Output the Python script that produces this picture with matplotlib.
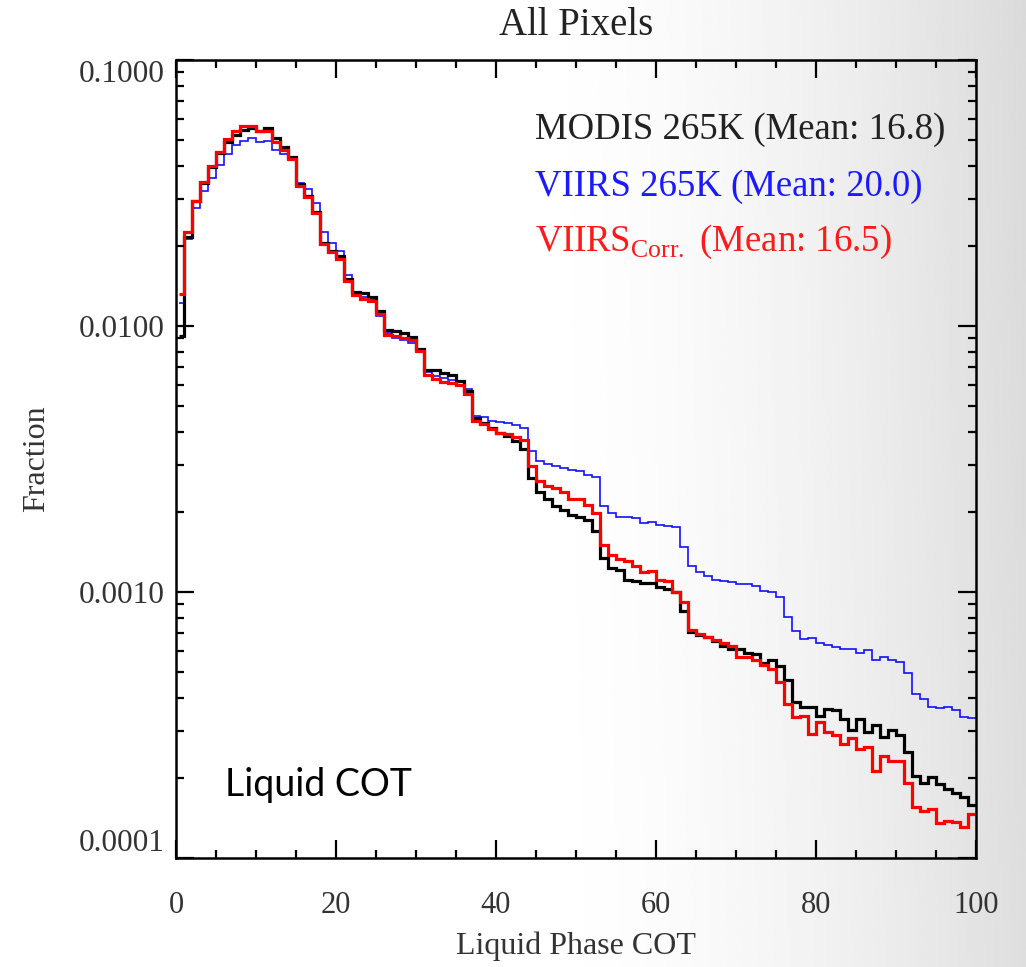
import numpy as np
import matplotlib
matplotlib.use("Agg")
import matplotlib.pyplot as plt
from matplotlib.ticker import MultipleLocator, FixedLocator, NullFormatter

plt.rcParams['font.family'] = ['Liberation Serif', 'DejaVu Serif']
plt.rcParams['mathtext.fontset'] = 'custom'
plt.rcParams['mathtext.rm'] = 'Liberation Serif'

# histogram bins of liquid COT (first bin is a partial one starting near 0.4)
bin_edges = np.concatenate([[0.4], np.arange(1, 101)])

modis = [0.00919, 0.0217, 0.0296, 0.0344, 0.0397, 0.0446, 0.0493, 0.0523, 0.0546, 0.0554,
         0.0543, 0.0557, 0.0511, 0.0472, 0.0433, 0.0341, 0.0308, 0.0269, 0.0206, 0.0192,
         0.0184, 0.0150, 0.0134, 0.0133, 0.0129, 0.0114, 0.00966, 0.00955, 0.00939, 0.00906,
         0.00819, 0.00682, 0.00685, 0.00663, 0.00655, 0.00622, 0.00570, 0.00452, 0.00433, 0.00415,
         0.00397, 0.00386, 0.00369, 0.00346, 0.00269, 0.00237, 0.00223, 0.00211, 0.00203, 0.00195,
         0.00192, 0.00186, 0.00169, 0.00134, 0.00123, 0.00121, 0.00111, 0.00110, 0.00108, 0.00108,
         0.00104, 0.00103, 0.00100, 0.000850, 0.000708, 0.000688, 0.000675, 0.000656, 0.000626, 0.000613,
         0.000613, 0.000590, 0.000583, 0.000541, 0.000554, 0.000526, 0.000466, 0.000386, 0.000368, 0.000368,
         0.000341, 0.000364, 0.000359, 0.000332, 0.000304, 0.000334, 0.000297, 0.000315, 0.000284, 0.000303,
         0.000289, 0.000250, 0.000204, 0.000192, 0.000201, 0.000190, 0.000182, 0.000176, 0.000169, 0.000158]

viirs = [0.0122, 0.0213, 0.0277, 0.0323, 0.0361, 0.0403, 0.0444, 0.0479, 0.0498, 0.0508,
         0.0490, 0.0496, 0.0459, 0.0442, 0.0427, 0.0344, 0.0327, 0.0291, 0.0225, 0.0206,
         0.0192, 0.0155, 0.0134, 0.0128, 0.0126, 0.0109, 0.00941, 0.00901, 0.00888, 0.00863,
         0.00819, 0.00669, 0.00649, 0.00635, 0.00627, 0.00622, 0.00578, 0.00459, 0.00456, 0.00439,
         0.00437, 0.00430, 0.00423, 0.00415, 0.00338, 0.00310, 0.00302, 0.00297, 0.00293, 0.00287,
         0.00285, 0.00276, 0.00271, 0.00210, 0.00198, 0.00192, 0.00191, 0.00190, 0.00181, 0.00183,
         0.00179, 0.00177, 0.00175, 0.00148, 0.00125, 0.00119, 0.00115, 0.00111, 0.00110, 0.00109,
         0.00107, 0.00107, 0.00105, 0.00101, 0.00100, 0.000960, 0.000803, 0.000715, 0.000663, 0.000669,
         0.000644, 0.000631, 0.000622, 0.000608, 0.000613, 0.000589, 0.000604, 0.000557, 0.000572, 0.000556,
         0.000546, 0.000495, 0.000415, 0.000397, 0.000369, 0.000367, 0.000369, 0.000361, 0.000338, 0.000335]

viirs_corr = [0.0132, 0.0226, 0.0294, 0.0349, 0.0398, 0.0452, 0.0503, 0.0540, 0.0567, 0.0567,
              0.0543, 0.0543, 0.0493, 0.0459, 0.0423, 0.0337, 0.0306, 0.0267, 0.0204, 0.0190,
              0.0179, 0.0147, 0.0131, 0.0126, 0.0124, 0.0111, 0.00927, 0.00914, 0.00901, 0.00888,
              0.00807, 0.00653, 0.00634, 0.00616, 0.00613, 0.00600, 0.00554, 0.00439, 0.00427, 0.00409,
              0.00397, 0.00391, 0.00383, 0.00372, 0.00297, 0.00261, 0.00250, 0.00246, 0.00238, 0.00223,
              0.00224, 0.00213, 0.00199, 0.00150, 0.00138, 0.00133, 0.00131, 0.00125, 0.00119, 0.00120,
              0.00111, 0.00110, 0.00100, 0.000919, 0.000719, 0.000698, 0.000676, 0.000659, 0.000642, 0.000626,
              0.000570, 0.000570, 0.000554, 0.000530, 0.000512, 0.000457, 0.000378, 0.000340, 0.000343, 0.000293,
              0.000324, 0.000297, 0.000289, 0.000269, 0.000283, 0.000257, 0.000261, 0.000213, 0.000241, 0.000231,
              0.000231, 0.000192, 0.000155, 0.000150, 0.000153, 0.000135, 0.000138, 0.000136, 0.000131, 0.000146]

labels = ['MODIS 265K (Mean: 16.8)', 'VIIRS 265K (Mean: 20.0)',
          r'VIIRS$_{\mathrm{Corr.}}$ (Mean: 16.5)']

fig = plt.figure(figsize=(10.26, 9.67), dpi=100)

# soft grey background gradient (white on the left, grey to the right)
bg = fig.add_axes([0, 0, 1, 1], zorder=-10)
gx = np.linspace(0, 1, 400)
gy = np.linspace(0, 1, 400)
GX, GY = np.meshgrid(gx, gy)
shade = 1 - 0.13 * np.clip((GX - 0.5) / 0.5, 0, 1) ** 1.8 - 0.03 * GY * np.clip(GX - 0.5, 0, 1)
bg.imshow(shade, cmap='gray', vmin=0, vmax=1, aspect='auto', extent=[0, 1, 0, 1], origin='lower')
bg.axis('off')

ax = fig.add_axes([176 / 1026, 1 - 858 / 967, 800 / 1026, 798 / 967])
ax.set_facecolor('none')

ax.stairs(viirs, bin_edges, color='#1010ff', lw=1.2, baseline=None)
ax.stairs(modis, bin_edges, color='black', lw=2.3, baseline=None)
ax.stairs(viirs_corr, bin_edges, color='#ff0000', lw=2.3, baseline=None)

ax.set_yscale('log')
ax.set_xlim(0, 100)
ax.set_ylim(1e-4, 1e-1)

ax.xaxis.set_major_locator(MultipleLocator(20))
ax.xaxis.set_minor_locator(MultipleLocator(5))
ax.yaxis.set_major_locator(FixedLocator([1e-4, 1e-3, 1e-2, 1e-1]))
ax.yaxis.set_minor_locator(FixedLocator([m * 10.0 ** e for e in (-4, -3, -2) for m in range(2, 10)]))
ax.yaxis.set_minor_formatter(NullFormatter())
ax.set_yticklabels(['0.0001', '0.0010', '0.0100', '0.1000'])

ax.tick_params(which='both', direction='in', top=True, right=True, width=1.6, colors='black')
ax.tick_params(which='major', length=13)
ax.tick_params(which='minor', length=6)
ax.tick_params(axis='x', which='major', labelsize=22, pad=24, labelcolor='#333333')
ax.tick_params(axis='y', which='major', labelsize=22.5, pad=8, labelcolor='#333333')
ylabs = ax.get_yticklabels()
ylabs[0].set_va('bottom')
ylabs[-1].set_va('top')
for s in ax.spines.values():
    s.set_linewidth(1.8)

ax.set_xlabel('Liquid Phase COT', fontsize=23, color='#333333', labelpad=8)
ax.set_ylabel('Fraction', fontsize=23, color='#333333', labelpad=20)
ax.set_title('All Pixels', fontsize=28, color='#222222', pad=18)

colors = ['#222222', '#1a1aff', '#ff1a1a']
ypos = [0.913, 0.841, 0.772]
for lab, c, yy in zip(labels, colors, ypos):
    ax.text(0.449, yy, lab, transform=ax.transAxes, fontsize=26.5, color=c, va='center', ha='left')

ax.text(0.061, 0.0915, 'Liquid COT', transform=ax.transAxes, fontsize=27, color='black',
        va='center', ha='left', family=['Lato', 'DejaVu Sans'])

fig.savefig('out.png', dpi=100)
